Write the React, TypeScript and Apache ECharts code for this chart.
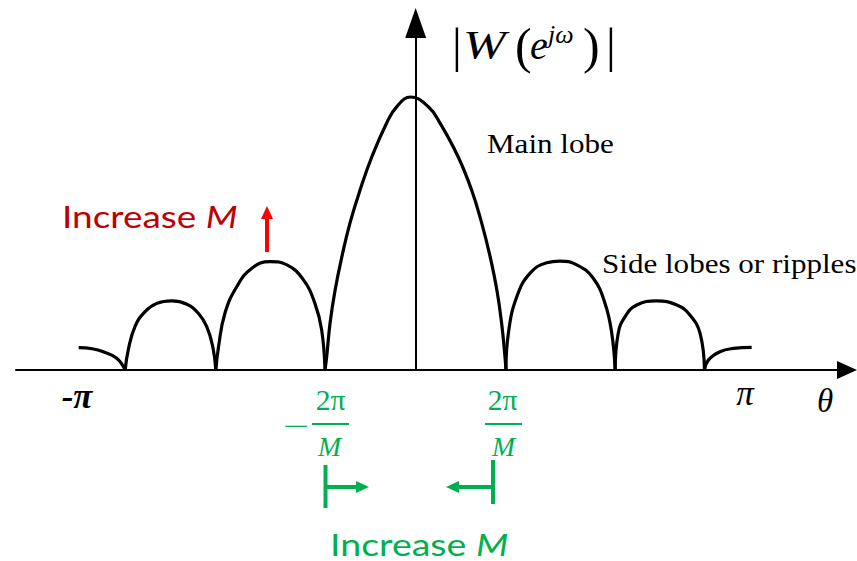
import React, { useEffect, useRef } from "react";
import * as echarts from "echarts";

// Magnitude |W(e^jθ)| sketch, θ in units of π, magnitude normalised to the main-lobe peak.
const tailLeft = [[-1.0, 0.082], [-0.96, 0.078], [-0.927, 0.067], [-0.887, 0.043], [-0.862, 0]];
const sideLobe2Left = [
  [-0.862, 0], [-0.853, 0.073], [-0.833, 0.159], [-0.803, 0.214], [-0.768, 0.244], [-0.724, 0.253],
  [-0.679, 0.241], [-0.645, 0.208], [-0.62, 0.159], [-0.602, 0.085], [-0.593, 0],
];
const sideLobe1Left = [
  [-0.593, 0], [-0.585, 0.085], [-0.566, 0.208], [-0.531, 0.305], [-0.486, 0.373], [-0.432, 0.397],
  [-0.382, 0.385], [-0.333, 0.33], [-0.299, 0.244], [-0.279, 0.147], [-0.269, 0],
];
const mainLobe = [
  [-0.269, 0], [-0.264, 0.049], [-0.254, 0.172], [-0.239, 0.293], [-0.219, 0.415], [-0.195, 0.538],
  [-0.165, 0.659], [-0.13, 0.781], [-0.086, 0.905], [-0.056, 0.965], [-0.015, 1.0], [0.037, 0.965],
  [0.072, 0.905], [0.126, 0.781], [0.166, 0.659], [0.196, 0.538], [0.221, 0.415], [0.241, 0.293],
  [0.255, 0.172], [0.265, 0.049], [0.268, 0],
];
const sideLobe1Right = [
  [0.268, 0], [0.275, 0.134], [0.3, 0.268], [0.339, 0.354], [0.389, 0.393], [0.428, 0.399],
  [0.478, 0.385], [0.527, 0.336], [0.562, 0.244], [0.582, 0.134], [0.592, 0],
];
const sideLobe2Right = [
  [0.592, 0], [0.601, 0.134], [0.621, 0.195], [0.656, 0.238], [0.715, 0.253], [0.775, 0.238],
  [0.814, 0.201], [0.844, 0.134], [0.857, 0],
];
const tailRight = [[0.857, 0], [0.869, 0.037], [0.903, 0.067], [0.943, 0.079], [0.997, 0.083]];

const lobes = [tailLeft, sideLobe2Left, sideLobe1Left, mainLobe, sideLobe1Right, sideLobe2Right, tailRight];

const GREEN = "#00B050";
const DARK_RED = "#C00000";
const RED = "#FF0000";
const SERIF = "'Liberation Serif', 'Times New Roman', serif";
const SANS = "Lato, 'Open Sans', sans-serif";

function txt(
  text: string,
  x: number,
  y: number,
  fontSize: number,
  opts: { [k: string]: any } = {},
  scaleX = 1
) {
  return {
    type: "text",
    x,
    y,
    scaleX,
    z: 10,
    style: {
      text,
      fontSize,
      fontFamily: opts.fontFamily || SERIF,
      fontStyle: opts.fontStyle || "normal",
      fontWeight: opts.fontWeight || "normal",
      fill: opts.fill || "#000",
      align: opts.align || "left",
      verticalAlign: "middle",
      rich: opts.rich,
    },
  };
}

function line(x1: number, y1: number, x2: number, y2: number, color: string, width: number) {
  return {
    type: "line",
    z: 10,
    shape: { x1, y1, x2, y2 },
    style: { stroke: color, lineWidth: width },
  };
}

function head(points: number[][], color: string) {
  return { type: "polygon", z: 10, shape: { points }, style: { fill: color } };
}

export default function App() {
  const ref = useRef<HTMLDivElement>(null);

  useEffect(() => {
    if (!ref.current) return;
    const chart = echarts.init(ref.current, undefined, { renderer: "svg" });

    const increaseRich = {
      n: { fontFamily: SANS, fontSize: 30 },
      i: { fontFamily: SANS, fontSize: 30, fontStyle: "italic" },
    };

    chart.setOption({
      animation: false,
      backgroundColor: "#fff",
      grid: { left: 16, top: 23, width: 831, height: 347 },
      xAxis: {
        type: "value",
        min: -1.186,
        max: 1.28,
        axisLine: {
          onZero: true,
          symbol: ["none", "triangle"],
          symbolSize: [18, 20],
          lineStyle: { color: "#000", width: 2 },
        },
        axisTick: { show: false },
        axisLabel: { show: false },
        splitLine: { show: false },
      },
      yAxis: {
        type: "value",
        min: 0,
        max: 1.271,
        axisLine: {
          show: true,
          onZero: true,
          symbol: ["none", "triangle"],
          symbolSize: [21, 30],
          lineStyle: { color: "#000", width: 2 },
        },
        axisTick: { show: false },
        axisLabel: { show: false },
        splitLine: { show: false },
      },
      series: lobes.map((d) => ({
        type: "line",
        data: d,
        smooth: 0.45,
        showSymbol: false,
        lineStyle: { color: "#000", width: 3.2 },
        z: 5,
      })),
      graphic: [
        // |W(e^{jω})|
        txt("|", 457, 45, 49, { align: "center" }),
        txt("W", 463, 45, 40, { fontStyle: "italic" }, 1.28),
        txt("(", 515, 46, 50),
        txt("e", 530, 45, 40, { fontStyle: "italic" }),
        txt("jω", 548, 34, 26, { fontStyle: "italic" }),
        txt(")", 583, 46, 50),
        txt("|", 611, 45, 49, { align: "center" }),

        txt("Main lobe", 487, 144, 27.5, {}, 1.13),
        txt("Side lobes or ripples", 602, 264, 27.5, {}, 1.13),

        // axis end labels
        txt("-π", 77, 396, 35, { fontStyle: "italic", fontWeight: "bold", align: "center" }),
        txt("π", 745, 393, 35, { fontStyle: "italic", align: "center" }),
        txt("θ", 825, 401, 33, { fontStyle: "italic", align: "center" }),

        // -2π/M
        txt("−", 296, 426, 29, { fill: GREEN, align: "center" }, 1.6),
        txt("2π", 330.5, 400, 29.6, { fill: GREEN, align: "center" }),
        line(312, 424, 349, 424, GREEN, 2),
        txt("M", 329.5, 446, 27.7, { fill: GREEN, fontStyle: "italic", align: "center" }),
        // 2π/M
        txt("2π", 502.5, 400, 29.6, { fill: GREEN, align: "center" }),
        line(485, 424, 522, 424, GREEN, 2),
        txt("M", 503.5, 446, 27.7, { fill: GREEN, fontStyle: "italic", align: "center" }),

        // inward-moving null markers
        line(325.5, 465, 325.5, 508, GREEN, 4),
        line(325.5, 487, 358, 487, GREEN, 4),
        head([[356, 481], [369, 487], [356, 493]], GREEN),
        line(493, 460, 493, 504, GREEN, 4),
        line(493, 487, 458, 487, GREEN, 4),
        head([[459, 481], [446, 487], [459, 493]], GREEN),
        txt("{n|Increase }{i|M}", 330, 544, 30, { fill: GREEN, rich: increaseRich }, 1.25),

        // side lobe growth
        txt("{n|Increase }{i|M}", 62, 216, 30, { fill: DARK_RED, rich: increaseRich }, 1.23),
        line(267, 252, 267, 217, RED, 4),
        head([[261, 219], [267, 206], [273, 219]], RED),
      ],
    });

    return () => chart.dispose();
  }, []);

  return (
    <div
      ref={ref}
      style={{ position: "fixed", left: 0, top: 0, width: 857, height: 561, background: "#fff" }}
    />
  );
}
